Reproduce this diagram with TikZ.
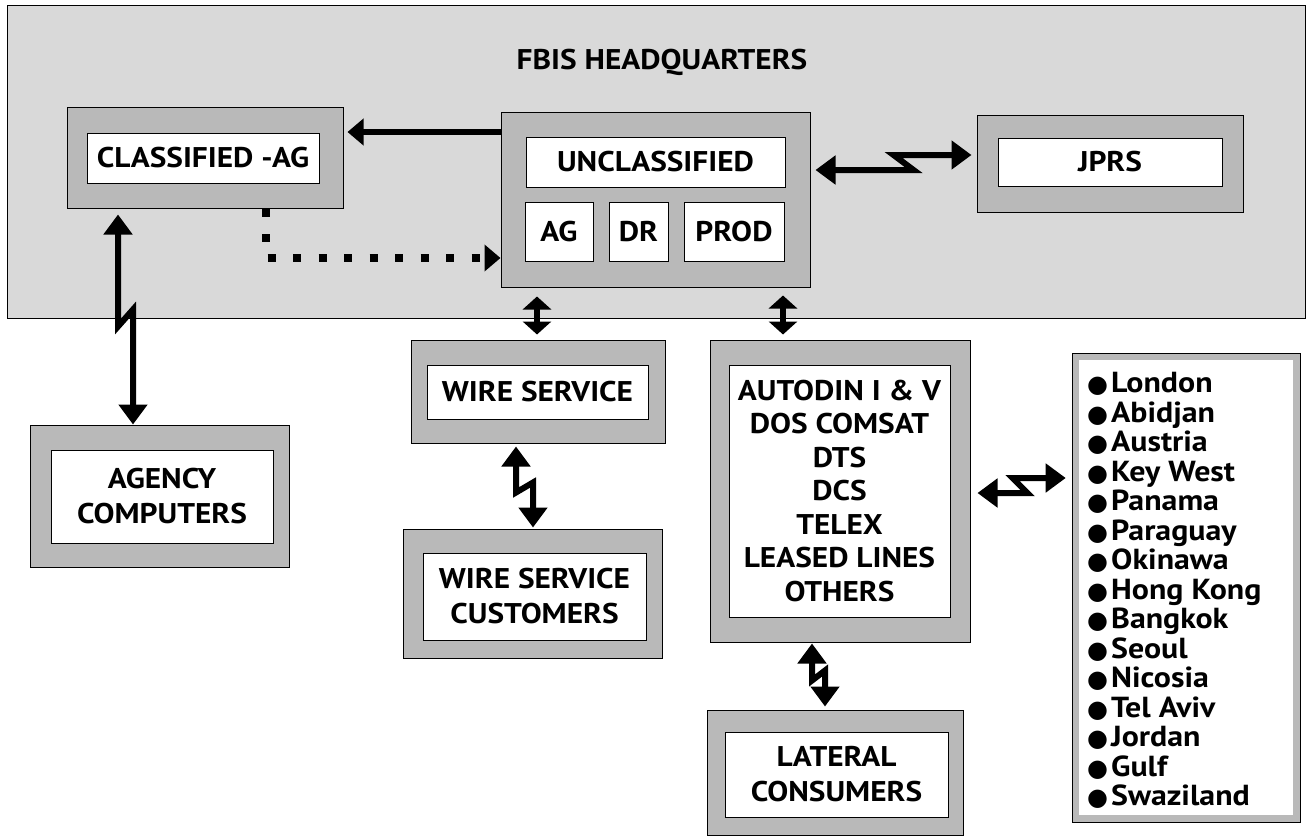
\documentclass[tikz,border=0pt]{standalone}
\usepackage{fontspec}
\setmainfont{PT Sans}[FakeStretch=1.1]
\newfontfamily\djv{DejaVu Sans}
\usetikzlibrary{arrows.meta}
\newcommand\lbl{\fontsize{28.5}{35}\selectfont\bfseries}
\newcommand\autofont{\fontsize{28.5}{33.5}\selectfont\bfseries}
\newcommand\cityfont{\fontsize{29}{29.5}\selectfont\bfseries}
\newcommand\blt{{\djv\fontsize{24}{24}\selectfont ●}\hspace{3pt}}
\begin{document}
\begin{tikzpicture}[x=1pt,y=-1pt,
  hqbox/.style={draw=black, line width=0.8pt, fill=gray!30, inner sep=0pt},
  outerbox/.style={draw=black, line width=1pt, fill=gray!55, inner sep=0pt},
  innerbox/.style={draw=black, line width=1pt, fill=white, inner sep=0pt, font=\lbl, align=center},
  whitebox/.style={fill=white, inner sep=0pt},
  zap/.style={line width=6pt, {Triangle[length=20pt,width=28pt]}-{Triangle[length=20pt,width=28pt]}},
  dbl/.style={line width=6pt, {Triangle[length=13pt,width=28pt]}-{Triangle[length=13pt,width=28pt]}},
  fat/.style={line width=6pt, -{Triangle[length=16pt,width=26pt]}},
  dots/.style={line width=8pt, dash pattern=on 8pt off 17.5pt, -{Triangle[length=16pt,width=26pt]}}
]
\useasboundingbox (0,0) rectangle (1307,836);
\fill[white] (0,0) rectangle (1307,836);

% headquarters area
\node[hqbox, minimum width=1298pt, minimum height=313pt] (hq) at (656,161.5) {};
\node[font=\lbl] (title) at (662,62) {FBIS HEADQUARTERS};

% classified
\node[outerbox, minimum width=276pt, minimum height=101pt] (clso) at (205,157.5) {};
\node[innerbox, minimum width=232pt, minimum height=50pt] (cls) at (203,158) {CLASSIFIED -AG};

% unclassified
\node[outerbox, minimum width=309pt, minimum height=175pt] (unco) at (655.5,199.5) {};
\node[innerbox, minimum width=259pt, minimum height=50pt] (unc) at (655.5,162) {UNCLASSIFIED};
\node[innerbox, minimum width=68pt, minimum height=59pt] (ag) at (559,231.5) {AG};
\node[innerbox, minimum width=59pt, minimum height=59pt] (dr) at (638.5,231.5) {DR};
\node[innerbox, minimum width=100pt, minimum height=59pt] (prod) at (734,231.5) {PROD};

% JPRS
\node[outerbox, minimum width=266pt, minimum height=97pt] (jprso) at (1110,163.5) {};
\node[innerbox, minimum width=224pt, minimum height=48pt] (jprs) at (1110,162) {JPRS};

% agency computers
\node[outerbox, minimum width=259pt, minimum height=142pt] (agco) at (159.5,496) {};
\node[innerbox, minimum width=222pt, minimum height=93pt] (agc) at (162,496.5) {AGENCY\\COMPUTERS};

% wire service
\node[outerbox, minimum width=254pt, minimum height=103pt] (wireo) at (538,391.5) {};
\node[innerbox, minimum width=221pt, minimum height=54pt] (wire) at (537.5,392) {WIRE SERVICE};

% wire service customers
\node[outerbox, minimum width=259pt, minimum height=129pt] (wcuo) at (532.5,593.5) {};
\node[innerbox, minimum width=223pt, minimum height=87pt] (wcu) at (534.5,596.5) {WIRE SERVICE\\CUSTOMERS};

% autodin
\node[outerbox, minimum width=260pt, minimum height=302pt] (auto) at (840,491) {};
\node[innerbox, font=\autofont, minimum width=221pt, minimum height=252pt] (aut) at (839.5,491)
  {AUTODIN I \& V\\DOS COMSAT\\DTS\\DCS\\TELEX\\LEASED LINES\\OTHERS};

% lateral consumers
\node[outerbox, minimum width=256pt, minimum height=125pt] (lato) at (835,772.5) {};
\node[innerbox, minimum width=223pt, minimum height=85pt] (lat) at (836.5,774.5) {LATERAL\\CONSUMERS};

% cities
\node[outerbox, line width=0.6pt, minimum width=228pt, minimum height=469pt] (cito) at (1186,587.5) {};
\node[whitebox, minimum width=214pt, minimum height=455pt] (citw) at (1186,587.5) {};
\node[font=\cityfont, align=left, anchor=west, inner sep=0pt] (cit) at (1087,590.5)
  {\blt London\\\blt Abidjan\\\blt Austria\\\blt Key West\\\blt Panama\\\blt Paraguay\\\blt Okinawa\\\blt Hong Kong\\\blt Bangkok\\\blt Seoul\\\blt Nicosia\\\blt Tel Aviv\\\blt Jordan\\\blt Gulf\\\blt Swaziland};

% connectors
\draw[fat, shorten >=4pt] ([yshift=67.5pt]unco.west) -- ([yshift=25.5pt]clso.east);
\draw[dots] ([xshift=61pt]clso.south) |- ([yshift=-58.5pt]unco.west);
\draw[zap] ([xshift=5pt,yshift=29.5pt]unco.east) -- ++(98,0) -- ++(-20,-15) -- ([xshift=-5pt,yshift=8.5pt]jprso.west);
\draw[zap] ([xshift=-87pt,yshift=-6pt]clso.south) -- ++(0,112) -- ++(15,-17) -- ([xshift=-26.5pt]agco.north);
\draw[dbl] ([xshift=-118.5pt,yshift=-9pt]unco.south) -- ([xshift=-1pt,yshift=5pt]wireo.north);
\draw[dbl] ([xshift=127.5pt,yshift=-8pt]unco.south) -- ([xshift=-57pt,yshift=5pt]auto.north);
\draw[zap] ([xshift=-22pt,yshift=-3pt]wireo.south) -- ++(0,46) -- ++(17,-10) -- ([xshift=0.5pt,yshift=1pt]wcuo.north);
\draw[zap] ([xshift=-28pt,yshift=-1pt]auto.south) -- ++(0,37) -- ++(13,-10) -- ([xshift=-10pt,yshift=3pt]lato.north);
\draw[zap] ([xshift=7pt,yshift=-2pt]auto.east) -- ++(50,0) -- ++(-15,-15) -- ([xshift=-6pt,yshift=109.5pt]cito.west);
\end{tikzpicture}
\end{document}
